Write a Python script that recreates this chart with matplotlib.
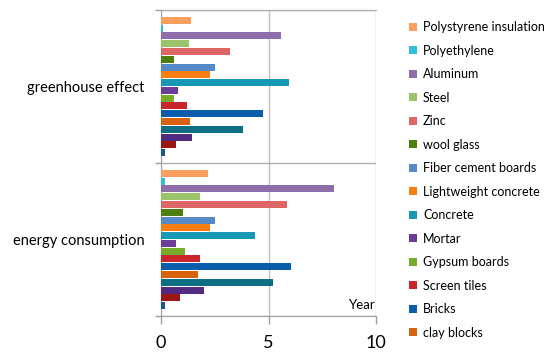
import numpy as np
import matplotlib.pyplot as plt

categories = ['energy consumption', 'greenhouse effect']
materials = ['Polystyrene insulation', 'Polyethylene', 'Aluminum', 'Steel', 'Zinc',
             'wool glass', 'Fiber cement boards', 'Lightweight concrete', 'Concrete',
             'Mortar', 'Gypsum boards', 'Screen tiles', 'Bricks', 'clay blocks',
             '_s15', '_s16', '_s17', '_s18']
energy = [2.2, 0.17, 8.05, 1.8, 5.85, 1.0, 2.5, 2.3, 4.35, 0.7, 1.1, 1.8, 6.05, 1.7,
          5.2, 2.0, 0.9, 0.2]
greenhouse = [1.4, 0.1, 5.6, 1.3, 3.2, 0.6, 2.5, 2.3, 5.95, 0.8, 0.6, 1.2, 4.75, 1.35,
              3.8, 1.45, 0.7, 0.2]
colors = ['#F9A05F', '#2FBFDC', '#8E6DAB', '#9BC46A', '#DD6565', '#4E7D10',
          '#5589C8', '#FA7D12', '#1698B6', '#6C3D98', '#77AC2B', '#C9252A',
          '#0A5DAA', '#D9620E', '#0E6E84', '#512B7F', '#9C1616', '#1A5494']

plt.rcParams['font.family'] = ['Lato', 'DejaVu Sans']

fig = plt.figure(figsize=(5.5, 3.6), dpi=100)
ax = fig.add_axes([161/550, 1 - 316/360, 215/550, 306/360])

n = len(materials)
slot = 0.915 / n
ypos = np.arange(len(categories))
for i, name in enumerate(materials):
    vals = [energy[i], greenhouse[i]]
    ax.barh(ypos + (n/2 - 0.5 - i) * slot, vals, height=slot * 0.9,
            color=colors[i], label=name, zorder=3)

ax.set_xlim(0, 10)
ax.set_ylim(-0.5, 1.5)
ax.set_xticks([0, 5, 10])
ax.set_xticklabels(['0', '5', '10'], fontsize=13)
ax.set_yticks([0, 1])
ax.set_yticklabels(categories, fontsize=10.5)
ax.set_yticks([-0.5, 0.5, 1.5], minor=True)
ax.tick_params(axis='y', which='major', length=0, pad=12)
ax.tick_params(axis='y', which='minor', length=4, color='#A0A0A0', width=1)
ax.tick_params(axis='x', length=6, color='#A0A0A0', width=1, pad=8)
ax.grid(axis='x', color='#C0C0C0', linewidth=1, zorder=0)
ax.grid(axis='y', which='minor', color='#B0B0B0', linewidth=1, zorder=0)
for s in ['top', 'right']:
    ax.spines[s].set_visible(False)
ax.spines['left'].set_color('#A0A0A0')
ax.spines['bottom'].set_color('#A0A0A0')
ax.plot([0, 10], [1.5, 1.5], color='#C0C0C0', linewidth=1, zorder=1, clip_on=False)

ax.text(10, -0.47, 'Year', ha='right', va='bottom', fontsize=9.5)

handles, labels = ax.get_legend_handles_labels()
leg = fig.legend(handles[:14], labels[:14], loc='upper left',
                 bbox_to_anchor=(398/550, 1 - 10/360), frameon=False,
                 fontsize=9, handlelength=0.6, handleheight=0.6,
                 handletextpad=0.5, labelspacing=0.92)

plt.savefig('out.png', dpi=100)
